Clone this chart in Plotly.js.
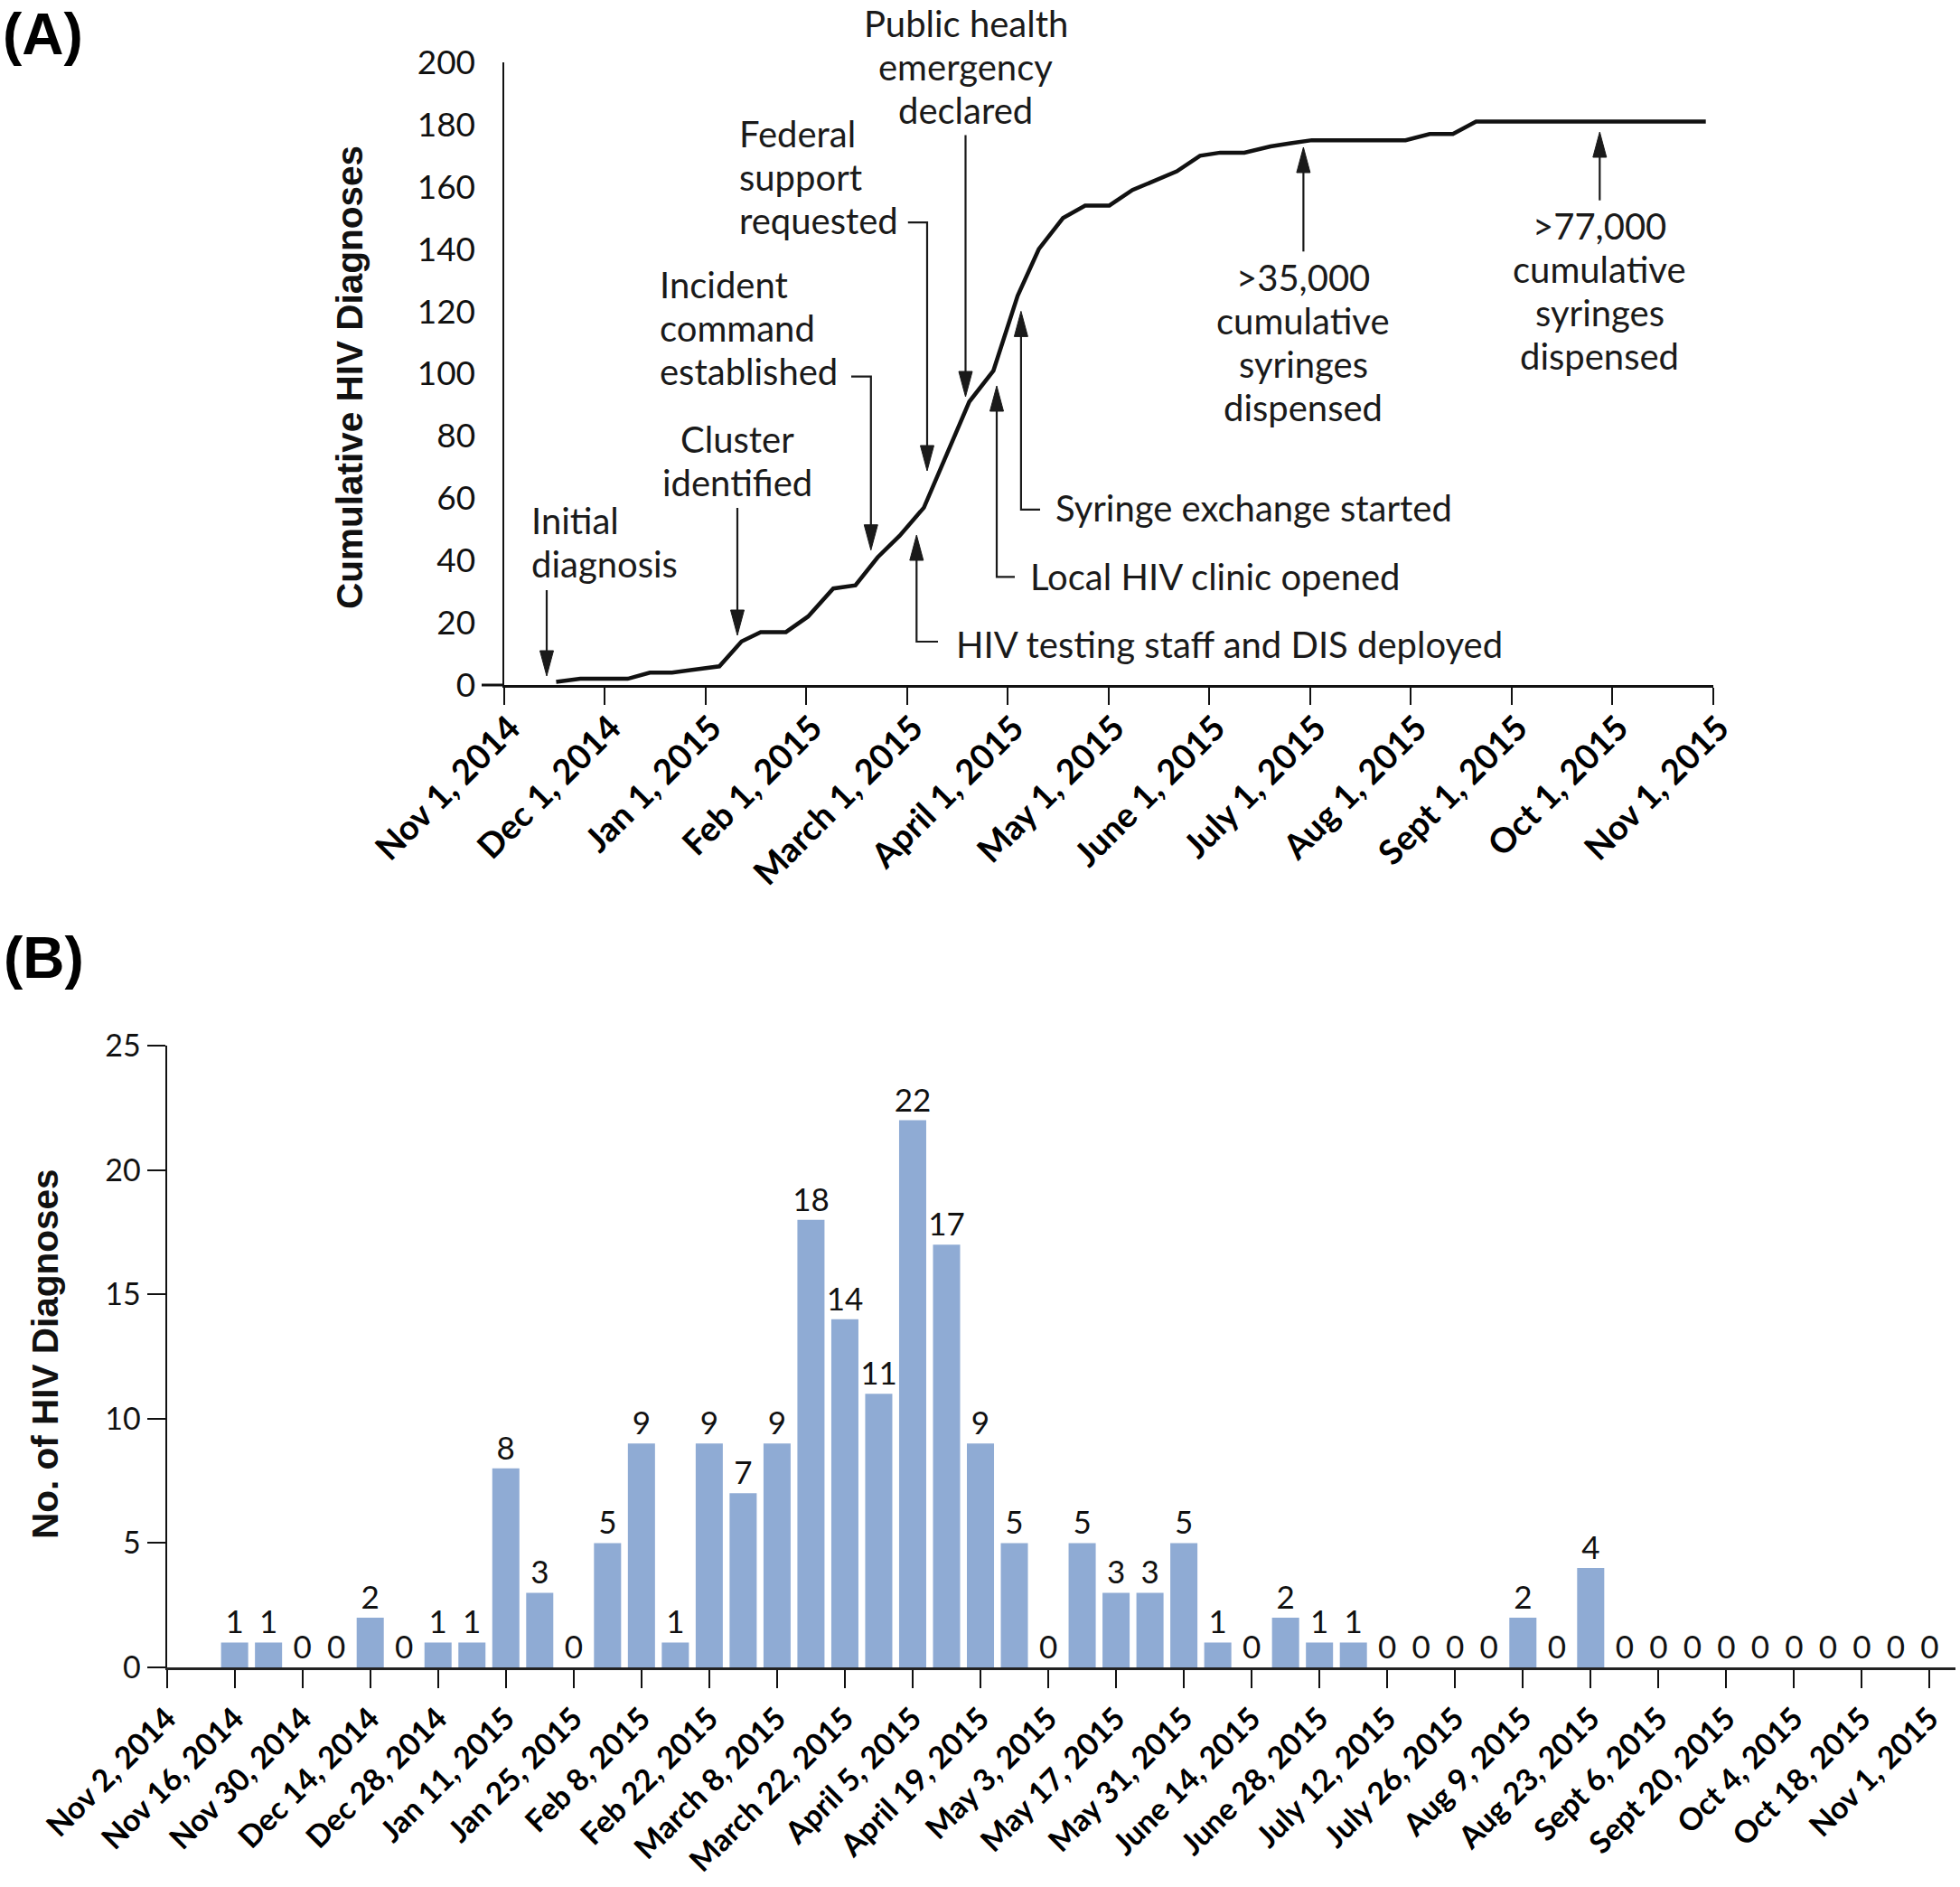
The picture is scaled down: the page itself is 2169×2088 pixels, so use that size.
<!DOCTYPE html>
<html><head><meta charset="utf-8">
<script src="https://cdn.plot.ly/plotly-3.0.1.min.js"></script>
<style>html,body{margin:0;padding:0;background:#fff;} #chart{width:2169px;height:2088px;}</style>
</head><body><div id="chart"></div>
<script>
// ---------- DATA ----------
const monthTickLabels = ['Nov 1, 2014','Dec 1, 2014','Jan 1, 2015','Feb 1, 2015','March 1, 2015','April 1, 2015','May 1, 2015','June 1, 2015','July 1, 2015','Aug 1, 2015','Sept 1, 2015','Oct 1, 2015','Nov 1, 2015'];
// months after Nov 1, 2014
const cumulativeMonths = [0.52,0.76,1.23,1.45,1.67,2.14,2.36,2.55,2.80,3.02,3.27,3.49,3.71,3.93,4.17,4.41,4.62,4.86,5.10,5.31,5.55,5.77,6.01,6.24,6.46,6.68,6.91,7.11,7.35,7.61,7.81,8.02,8.95,9.19,9.42,9.65,11.93];
const cumulativeDiagnoses = [1,2,2,4,4,6,14,17,17,22,31,32,41,48,57,75,91,101,125,140,150,154,154,159,162,165,170,171,171,173,174,175,175,177,177,181,181];
const cumulativeTicks = [0,20,40,60,80,100,120,140,160,180,200];

const weekTickLabels = ['Nov 2, 2014','Nov 16, 2014','Nov 30, 2014','Dec 14, 2014','Dec 28, 2014','Jan 11, 2015','Jan 25, 2015','Feb 8, 2015','Feb 22, 2015','March 8, 2015','March 22, 2015','April 5, 2015','April 19, 2015','May 3, 2015','May 17, 2015','May 31, 2015','June 14, 2015','June 28, 2015','July 12, 2015','July 26, 2015','Aug 9, 2015','Aug 23, 2015','Sept 6, 2015','Sept 20, 2015','Oct 4, 2015','Oct 18, 2015','Nov 1, 2015'];
const weeklyDiagnoses = [1,1,0,0,2,0,1,1,8,3,0,5,9,1,9,7,9,18,14,11,22,17,9,5,0,5,3,3,5,1,0,2,1,1,0,0,0,0,2,0,4,0,0,0,0,0,0,0,0,0,0];
const firstBarWeek = 2;      // first bar = week ending Nov 16, 2014 (weeks after Nov 2, 2014)
const weeksPerTick = 2;
const weeklyTicks = [0,5,10,15,20,25];

const eventLabels = [
  ['Initial','diagnosis'],
  ['Cluster','identified'],
  ['Incident','command','established'],
  ['Federal','support','requested'],
  ['Public health','emergency','declared'],
  ['HIV testing staff and DIS deployed'],
  ['Local HIV clinic opened'],
  ['Syringe exchange started'],
  ['>35,000','cumulative','syringes','dispensed'],
  ['>77,000','cumulative','syringes','dispensed']
];

// ---------- LAYOUT HELPERS ----------
const W = 2169, H = 2088;
const X = p => p / W;
const Y = p => 1 - p / H;
const INK = '#1a1a1a';
const TXT = 'Lato, "Noto Sans", sans-serif';
const A_ZERO = 758, A_TOP = 69;

// text placement: [x, first baseline, anchor]
const eventPos = [
  [586, 590, 'left'],
  [816, 500, 'center'],
  [728, 329, 'left'],
  [816, 162, 'left'],
  [1068.5, 40, 'center'],
  [1056, 727, 'left'],
  [1138, 652, 'left'],
  [1166, 576, 'left'],
  [1442, 321, 'center'],
  [1770, 264, 'center']
];
const LINE_GAP = 48, EV_SIZE = 40;

const annotations = [];
eventLabels.forEach((lines, k) => {
  const [x, b0, anchor] = eventPos[k];
  lines.forEach((t, i) => {
    annotations.push({text: t, xref:'paper', yref:'paper', x: X(x), y: Y(b0 + i*LINE_GAP - 0.36*EV_SIZE),
      xanchor: anchor, yanchor:'middle', showarrow:false, font:{family:TXT, size:EV_SIZE, color:INK}});
  });
});
const PANEL_FONT = 'Liberation Sans, Arial, sans-serif';
annotations.push({text:'<b>(A)</b>', xref:'paper', yref:'paper', x:X(2), y:Y(1), xanchor:'left', yanchor:'top', borderpad:0, showarrow:false, font:{family:PANEL_FONT, size:64, color:'#000'}});
annotations.push({text:'<b>(B)</b>', xref:'paper', yref:'paper', x:X(2), y:Y(1060), xanchor:'left', yanchor:'middle', showarrow:false, font:{family:PANEL_FONT, size:64, color:'#000'}});
annotations.push({text:'<b>Cumulative HIV Diagnoses</b>', xref:'paper', yref:'paper', x:X(387), y:Y(418), textangle:-90, xanchor:'center', yanchor:'middle', showarrow:false, font:{family:PANEL_FONT, size:40.5, color:'#111'}});
annotations.push({text:'<b>No. of HIV Diagnoses</b>', xref:'paper', yref:'paper', x:X(50), y:Y(1498), textangle:-90, xanchor:'center', yanchor:'middle', showarrow:false, font:{family:PANEL_FONT, size:40.5, color:'#111'}});

// arrows: [x, tailY, tipY, bracketX (optional)]
const arrowPos = [
  [605, 653, 748],
  [816, 562, 703],
  [963.8, 416.6, 608.7, 942],
  [1026, 246.2, 521, 1004.8],
  [1068.5, 149.5, 439],
  [1014.3, 710, 592, 1038],
  [1103, 638.4, 427, 1123],
  [1129.9, 563.8, 344.4, 1151],
  [1442.4, 278.3, 163],
  [1770.3, 221.7, 146]
];
const shapes = [];
const HEAD_LEN = 28, HEAD_HALF = 7.5;
arrowPos.forEach(([x, yTail, yTip, bx]) => {
  const dir = yTip > yTail ? 1 : -1;
  const yBase = yTip - dir*HEAD_LEN;
  let path = (bx !== undefined ? `M${X(bx)},${Y(yTail)} L${X(x)},${Y(yTail)}` : `M${X(x)},${Y(yTail)}`) + ` L${X(x)},${Y(yBase+dir*2)}`;
  shapes.push({type:'path', xref:'paper', yref:'paper', path, line:{color:INK, width:2.2}});
  shapes.push({type:'path', xref:'paper', yref:'paper',
    path:`M${X(x-HEAD_HALF)},${Y(yBase)} L${X(x+HEAD_HALF)},${Y(yBase)} L${X(x)},${Y(yTip)} Z`,
    fillcolor:INK, line:{color:INK, width:1}});
});
// zero-line extension left of panel A y-axis
shapes.push({type:'line', xref:'paper', yref:'paper', x0:X(533), x1:X(558), y0:Y(A_ZERO), y1:Y(A_ZERO), line:{color:'#111', width:3}});

// ---------- TRACES ----------
const lineTrace = {
  type:'scatter', mode:'lines', x: cumulativeMonths, y: cumulativeDiagnoses,
  xaxis:'x', yaxis:'y', line:{color:'#111', width:4.5}, hoverinfo:'skip'
};
const barTrace = {
  type:'bar', x: weeklyDiagnoses.map((_, i) => firstBarWeek + i), y: weeklyDiagnoses,
  xaxis:'x2', yaxis:'y2', marker:{color:'#8fabd4', line:{width:0}},
  text: weeklyDiagnoses.map(String), textposition:'outside', constraintext:'none', cliponaxis:false,
  textfont:{family:TXT, size:35, color:'#111'}, hoverinfo:'skip'
};

const layout = {
  width: W, height: H, margin:{l:0, r:0, t:0, b:0},
  paper_bgcolor:'#fff', plot_bgcolor:'rgba(0,0,0,0)', showlegend:false, bargap:0.2,
  font:{family:TXT, color:'#111'},
  xaxis:{domain:[X(557.5), X(1895.5)], range:[0,12], anchor:'y',
    tickvals: monthTickLabels.map((_, i) => i), ticktext: monthTickLabels, tickangle:-45,
    ticks:'outside', ticklen:19, tickwidth:2, tickcolor:'#111',
    ticklabelshift:7, ticklabelstandoff:-12,
    showline:true, linewidth:3, linecolor:'#111', showgrid:false, zeroline:false,
    tickfont:{family:TXT, size:38, weight:700, color:'#000'}},
  yaxis:{domain:[Y(A_ZERO), Y(A_TOP)], range:[0,200], anchor:'x',
    tickvals: cumulativeTicks, ticks:'', ticklabelstandoff:22,
    showline:true, linewidth:2, linecolor:'#111', showgrid:false, zeroline:false,
    tickfont:{family:TXT, size:37, color:'#111'}},
  xaxis2:{domain:[X(184.6), X(2164)], range:[0, 52.76], anchor:'y2',
    tickvals: weekTickLabels.map((_, i) => i*weeksPerTick), ticktext: weekTickLabels, tickangle:-45,
    ticks:'outside', ticklen:20, tickwidth:2, tickcolor:'#111',
    showline:true, linewidth:3, linecolor:'#222', showgrid:false, zeroline:false,
    tickfont:{family:TXT, size:34, weight:700, color:'#000'}},
  yaxis2:{domain:[Y(1845), Y(1157)], range:[0,25], anchor:'x2',
    tickvals: weeklyTicks, ticks:'outside', ticklen:20, tickwidth:2, tickcolor:'#111',
    showline:true, linewidth:2, linecolor:'#111', showgrid:false, zeroline:false,
    tickfont:{family:TXT, size:34, color:'#111'}},
  annotations, shapes
};

Plotly.newPlot('chart', [lineTrace, barTrace], layout, {staticPlot:true, displayModeBar:false});
</script></body></html>
